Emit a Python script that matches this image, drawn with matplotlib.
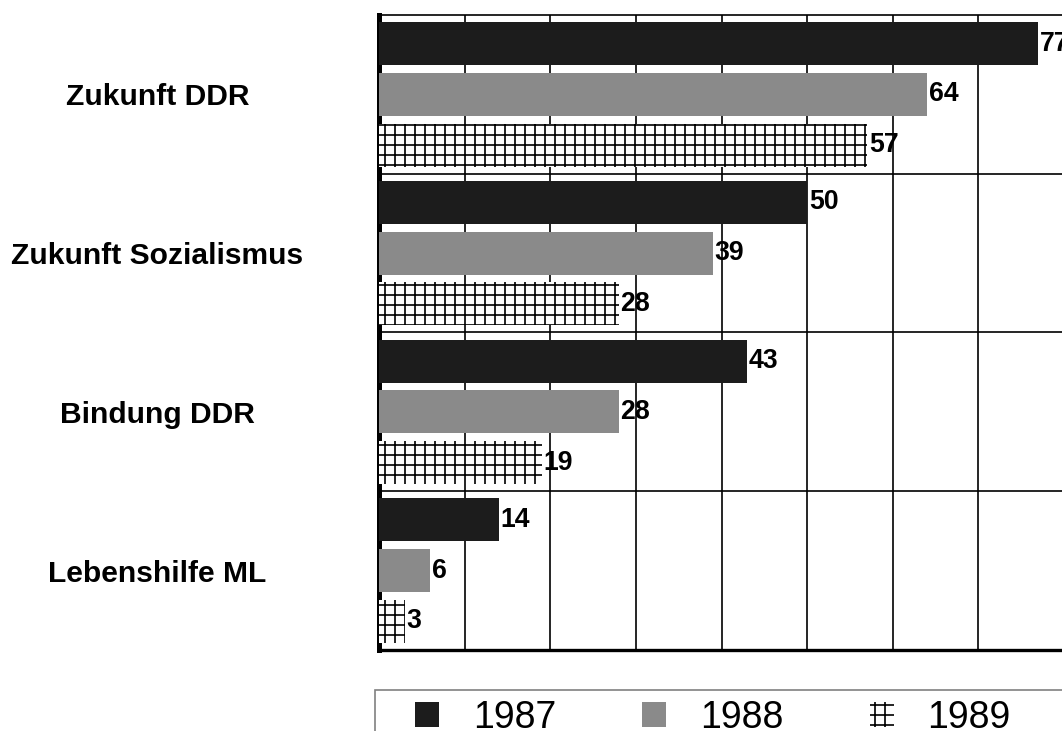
import numpy as np
import matplotlib.pyplot as plt
from matplotlib.patches import Rectangle

# Categories (top to bottom) and values per year
categories = ['Zukunft DDR', 'Zukunft Sozialismus', 'Bindung DDR', 'Lebenshilfe ML']
years = ['1987', '1988', '1989']
v1987 = [77, 50, 43, 14]
v1988 = [64, 39, 28, 6]
v1989 = [57, 28, 19, 3]

plt.rcParams['font.family'] = 'Liberation Sans'
plt.rcParams['hatch.linewidth'] = 1.0

fig = plt.figure(figsize=(8.85, 6.0917), dpi=120)
ax = fig.add_axes([379/1062, 1 - 650/731, 685/1062, 635/731])

y = np.arange(len(categories))
h = 0.27
off = 0.32

b1 = ax.barh(y - off, v1987, height=h, color='#1c1c1c', label=years[0], zorder=3)
b2 = ax.barh(y, v1988, height=h, color='#8a8a8a', label=years[1], zorder=3)
b3 = ax.barh(y + off, v1989, height=h, facecolor='white', edgecolor='black',
             linewidth=0, hatch='++', label=years[2], zorder=3)

for bars in (b1, b2, b3):
    ax.bar_label(bars, padding=1, fontsize=16, fontweight='bold')

ax.set_xlim(0, 80)
ax.set_ylim(3.5, -0.5)

ax.set_xticks(np.arange(10, 81, 10))
ax.set_xticklabels([])
ax.set_yticks(y)
ax.set_yticklabels(categories, fontsize=18, fontweight='bold', ha='center')
ax.set_yticks(y[:-1] + 0.5, minor=True)
ax.tick_params(axis='both', which='both', length=0)
ax.tick_params(axis='y', which='major', pad=133)

ax.grid(axis='x', which='major', color='black', linewidth=1.0, zorder=1)
ax.grid(axis='y', which='minor', color='black', linewidth=1.0, zorder=1)
ax.set_axisbelow(True)

ax.spines['left'].set_linewidth(3.0)
ax.spines['bottom'].set_linewidth(2.0)
ax.spines['top'].set_linewidth(1.0)
ax.spines['right'].set_visible(False)

# legend at the bottom, partially cut by the figure edge
fig.add_artist(Rectangle((375/1062, -0.2), 0.7, 0.2 + 1 - 690/731,
                         transform=fig.transFigure, facecolor='none',
                         edgecolor='#808080', linewidth=1.0))
fig.legend(handles=[b1, b2, b3], labels=years, loc='upper left',
           bbox_to_anchor=(415/1062, 1 - 700/731), ncol=3, frameon=False,
           fontsize=22.5, borderpad=0, borderaxespad=0,
           handlelength=0.64, handleheight=0.64, handletextpad=0.9,
           columnspacing=2.3)

fig.savefig('out.png', dpi=120)
